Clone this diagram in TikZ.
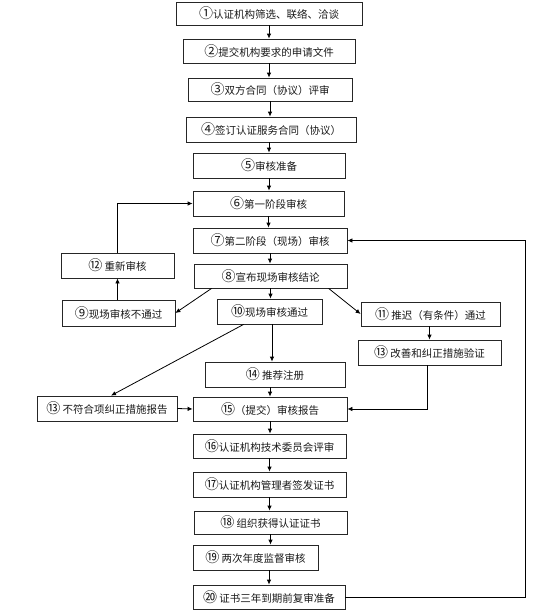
\documentclass[tikz,border=0pt]{standalone}
\usepackage{fontspec}
\newfontfamily\cjk{Noto Sans CJK SC}
\newcommand{\cnum}[1]{{\fontsize{14}{12}\selectfont #1}}
\usetikzlibrary{arrows.meta,calc}
\begin{document}
\begin{tikzpicture}[x=1pt,y=-1pt,
  box/.style={draw=black!85,line width=0.8pt,rectangle,inner sep=0pt,
    font=\cjk\fontsize{10.5}{12}\selectfont,text=black!90},
  arr/.style={draw=black,line width=0.8pt,-{Latex[length=5pt,width=4.5pt]}},
  ln/.style={draw=black,line width=0.8pt}]
\useasboundingbox (0,0) rectangle (539,616);
\node[box,minimum width=186pt,minimum height=23pt] (b1) at (269,13.5) {\cnum{①}认证机构筛选、联络、洽谈};
\node[box,minimum width=172pt,minimum height=24pt] (b2) at (269,51) {\cnum{②}提交机构要求的申请文件};
\node[box,minimum width=164pt,minimum height=23pt] (b3) at (270,89.5) {\cnum{③}双方合同（协议）评审};
\node[box,minimum width=170pt,minimum height=25pt] (b4) at (271,129.5) {\cnum{④}签订认证服务合同（协议）};
\node[box,minimum width=152pt,minimum height=25pt] (b5) at (269,165.5) {\cnum{⑤}审核准备};
\node[box,minimum width=151pt,minimum height=25pt] (b6) at (268.5,203.5) {\cnum{⑥}第一阶段审核};
\node[box,minimum width=154pt,minimum height=25pt] (b7) at (270,240.5) {\cnum{⑦}第二阶段（现场）审核};
\node[box,minimum width=153pt,minimum height=24pt] (b8) at (270.5,276) {\cnum{⑧}宣布现场审核结论};
\node[box,minimum width=105pt,minimum height=25pt] (b10) at (269.5,311.5) {\cnum{⑩}现场审核通过};
\node[box,minimum width=140pt,minimum height=25pt] (b14) at (275,374.5) {\cnum{⑭} 推荐注册};
\node[box,minimum width=154pt,minimum height=24pt] (b15) at (270,409) {\cnum{⑮}（提交）审核报告};
\node[box,minimum width=153pt,minimum height=24pt] (b16) at (269.5,446) {\cnum{⑯}认证机构技术委员会评审};
\node[box,minimum width=153pt,minimum height=25pt] (b17) at (269.5,484.5) {\cnum{⑰}认证机构管理者签发证书};
\node[box,minimum width=153pt,minimum height=23pt] (b18) at (270.5,522.5) {\cnum{⑱} 组织获得认证证书};
\node[box,minimum width=125pt,minimum height=25pt] (b19) at (255.5,557.5) {\cnum{⑲} 两次年度监督审核};
\node[box,minimum width=152pt,minimum height=24pt] (b20) at (269,597) {\cnum{⑳} 证书三年到期前复审准备};
\node[box,minimum width=113pt,minimum height=26pt] (b9) at (118.5,313) {\cnum{⑨}现场审核不通过};
\node[box,minimum width=113pt,minimum height=25pt] (b12) at (117.5,265.5) {\cnum{⑫} 重新审核};
\node[box,minimum width=139pt,minimum height=24pt] (b11) at (430.5,314) {\cnum{⑪} 推迟（有条件）通过};
\node[box,minimum width=143pt,minimum height=25pt] (b13) at (429.5,352.5) {\cnum{⑬} 改善和纠正措施验证};
\node[box,minimum width=140pt,minimum height=25pt] (b13p) at (107,408.5) {\cnum{⑬} 不符合项纠正措施报告};
\coordinate (c10) at ($(b10.south)+(2.5,0)$);
\coordinate (c13) at ($(b13.south)+(-2.5,0)$);
\coordinate (c8l) at ($(b8.south west)+(18,0)$);
\coordinate (c8r) at ($(b8.south west)+(135,0)$);
\coordinate (c10l) at ($(b10.south west)+(27,0)$);
\coordinate (c13p) at ($(b13p.north)+(4,0)$);
\coordinate (loopc) at (525,597);
% main column
\draw[arr] (b1.south) -- (b1.south |- b2.north);
\draw[arr] (b2.south) -- (b2.south |- b3.north);
\draw[arr] (b3.south) -- (b3.south |- b4.north);
\draw[arr] (b5.north |- b4.south) -- (b5.north);
\draw[arr] (b5.south) -- (b5.south |- b6.north);
\draw[arr] (b6.south) -- (b6.south |- b7.north);
\draw[arr] (b7.south) -- (b7.south |- b8.north);
\draw[arr] (b8.south) -- (b8.south |- b10.north);
\draw[arr] (c10) -- (c10 |- b14.north);
\draw[arr] (b15.north |- b14.south) -- (b15.north);
\draw[arr] (b15.south) -- (b15.south |- b16.north);
\draw[arr] (b16.south) -- (b16.south |- b17.north);
\draw[arr] (b17.south) -- (b17.south |- b18.north);
\draw[arr] (b18.south) -- (b18.south |- b19.north);
\draw[arr] (b20.north |- b19.south) -- (b20.north);
% branches
\draw[arr] (c8l) -- (b9.east);
\draw[arr] (c8r) -- (b11.west);
\draw[arr] (c10l) -- (c13p);
\draw[arr] (b12.south |- b9.north) -- (b12.south);
\draw[arr] (b12.north) |- (b6.west);
\draw[arr] (b13.north |- b11.south) -- (b13.north);
\draw[arr] (c13) |- (b15.east);
\draw[arr] (b13p.east) -- (b15.west);
\draw[arr] (b20.east) -- (loopc) |- (b7.east);
\end{tikzpicture}
\end{document}
